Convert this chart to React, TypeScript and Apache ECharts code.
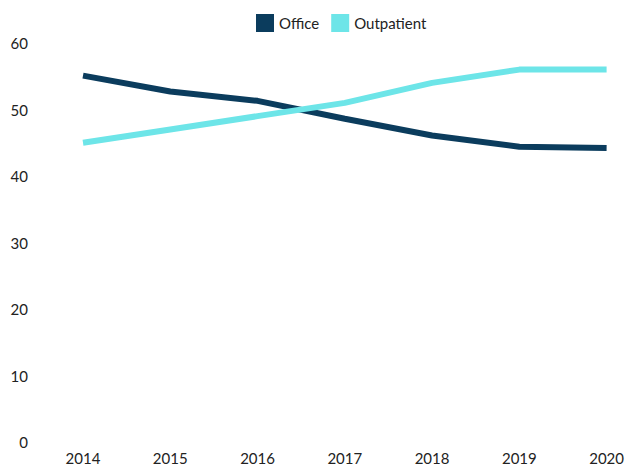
import React, { useEffect, useRef } from "react";
import * as echarts from "echarts";

const years = ["2014", "2015", "2016", "2017", "2018", "2019", "2020"];
const office = [55.1, 52.7, 51.3, 48.6, 46.1, 44.4, 44.2];
const outpatient = [45.0, 47.0, 49.0, 51.0, 54.0, 56.0, 56.0];

export default function App() {
  const ref = useRef<HTMLDivElement>(null);
  useEffect(() => {
    if (!ref.current) return;
    const chart = echarts.init(ref.current, null, { renderer: "svg" });
    const font = "Lato, 'Noto Sans', sans-serif";
    chart.setOption({
      animation: false,
      textStyle: { fontFamily: font },
      legend: {
        top: 9,
        left: 251,
        itemWidth: 18,
        itemHeight: 18,
        itemGap: 12,
        icon: "rect",
        textStyle: { fontSize: 15, color: "#222", fontFamily: font },
        data: ["Office", "Outpatient"],
      },
      grid: { left: 83, right: 16, top: 43, bottom: 25, containLabel: false },
      xAxis: {
        type: "category",
        data: years,
        boundaryGap: false,
        axisLine: { show: false },
        axisTick: { show: false },
        axisLabel: { fontSize: 15, color: "#222", margin: 8, fontFamily: font },
      },
      yAxis: {
        type: "value",
        min: 0,
        max: 60,
        interval: 10,
        splitLine: { show: false },
        axisLine: { show: false },
        axisTick: { show: false },
        axisLabel: { fontSize: 15, color: "#222", margin: 55, fontFamily: font },
      },
      series: [
        {
          name: "Office",
          type: "line",
          data: office,
          symbol: "none",
          lineStyle: { width: 6, color: "#0b3c5d" },
          itemStyle: { color: "#0b3c5d" },
        },
        {
          name: "Outpatient",
          type: "line",
          data: outpatient,
          symbol: "none",
          lineStyle: { width: 6, color: "#6de5e8" },
          itemStyle: { color: "#6de5e8" },
        },
      ],
    });
    return () => chart.dispose();
  }, []);
  return <div ref={ref} style={{ width: 627, height: 467, position: "absolute", left: 0, top: 0 }} />;
}
